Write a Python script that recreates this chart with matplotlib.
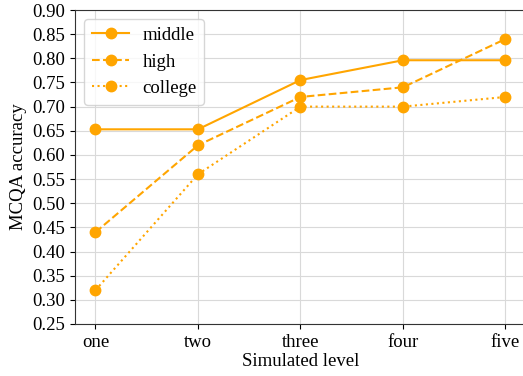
import matplotlib
matplotlib.use("Agg")
import matplotlib.pyplot as plt

levels = ["one", "two", "three", "four", "five"]
middle = [0.653, 0.653, 0.755, 0.796, 0.796]
high = [0.44, 0.62, 0.72, 0.74, 0.84]
college = [0.32, 0.56, 0.70, 0.70, 0.72]

plt.rcParams['font.family'] = ['Liberation Serif', 'DejaVu Serif']
plt.rcParams['font.size'] = 13.5
plt.rcParams['mathtext.fontset'] = 'stix'

fig = plt.figure(figsize=(5.23, 3.76), dpi=100)
ax = fig.add_axes([0.1434, 0.1383, 0.8623, 0.8351])

color = '#FFA500'
x = range(len(levels))
ax.plot(x, middle, '-', marker='o', color=color, lw=1.5, ms=7.5, label='middle')
ax.plot(x, high, '--', marker='o', color=color, lw=1.5, ms=7.5, label='high')
ax.plot(x, college, ':', marker='o', color=color, lw=1.5, ms=7.5, label='college')

ax.set_xticks(list(x))
ax.set_xticklabels(levels)
ax.set_xlim(-0.2, 4.2)
ax.set_ylim(0.25, 0.90)
ax.set_yticks([0.25 + 0.05 * i for i in range(14)])
ax.yaxis.set_major_formatter(matplotlib.ticker.FormatStrFormatter('%.2f'))
ax.grid(True, color='#d9d9d9', lw=0.8)
ax.set_axisbelow(True)
for s in ax.spines.values():
    s.set_color('#333333')
ax.set_xlabel('Simulated level', labelpad=2)
ax.set_ylabel('MCQA accuracy', labelpad=4)
ax.legend(loc='upper left', fontsize=13.5, handlelength=2.0, handletextpad=0.7)

fig.savefig('out.png', dpi=100)
